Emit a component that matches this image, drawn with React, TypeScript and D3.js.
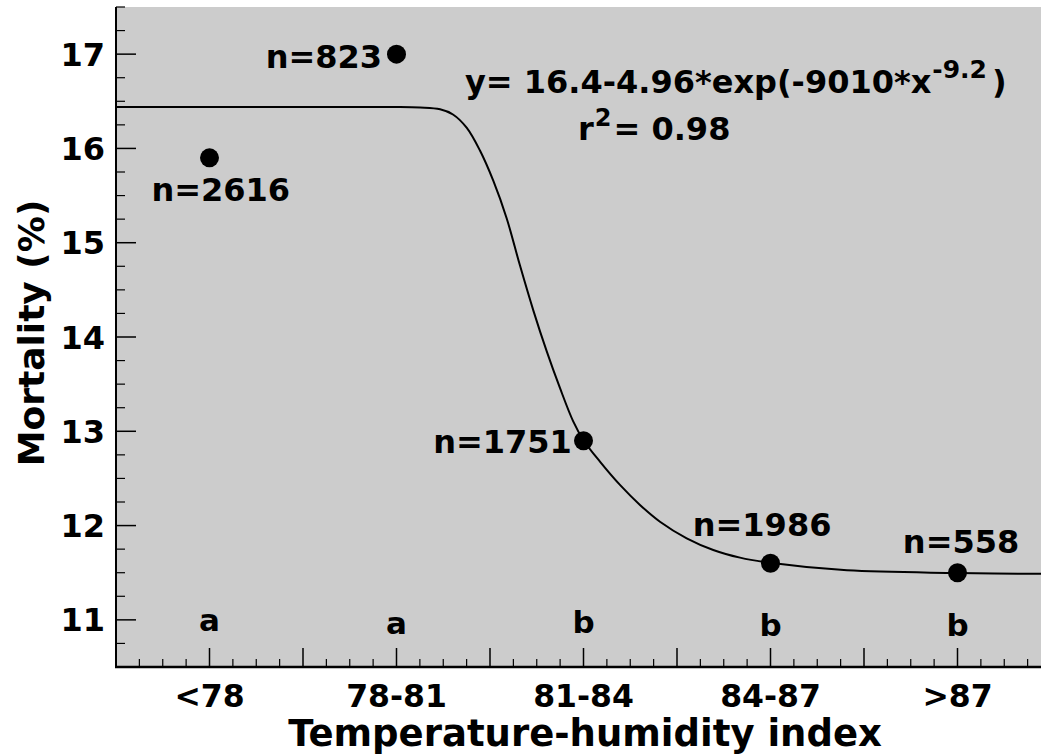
import React from "react";
import * as d3 from "d3";

const categories = ["<78", "78-81", "81-84", "84-87", ">87"];
const mortality = [15.9, 17.0, 12.9, 11.6, 11.5];
const nLabels = ["n=2616", "n=823", "n=1751", "n=1986", "n=558"];
const nLabelX = [0.06, 0.612, 1.567, 2.955, 4.019];
const nLabelY = [15.443, 16.853, 12.77, 11.89, 11.709];
const groupLetters = ["a", "a", "b", "b", "b"];
const groupLetterY = [10.886, 10.85, 10.864, 10.829, 10.829];
const yTicks = [11, 12, 13, 14, 15, 16, 17];

// fitted curve (x in category index units)
const curveX = [-0.5, 0.5, 1.0, 1.126, 1.233, 1.302, 1.375, 1.447, 1.518, 1.589, 1.66, 1.732, 1.803, 1.874, 1.945, 1.999, 2.088, 2.195, 2.302, 2.409, 2.552, 2.694, 2.837, 2.997, 3.409, 3.997, 4.5];
const curveY = [16.44, 16.44, 16.44, 16.434, 16.415, 16.36, 16.22, 15.975, 15.655, 15.26, 14.76, 14.28, 13.85, 13.46, 13.105, 12.908, 12.678, 12.431, 12.219, 12.041, 11.865, 11.741, 11.66, 11.605, 11.525, 11.497, 11.487];

const W = 1041;
const H = 755;
const FONT = "'DejaVu Sans', sans-serif";

export default function App() {
  const x = d3.scaleLinear().domain([-0.5, 4.5]).range([116, 1051]);
  const y = d3.scaleLinear().domain([10.5, 17.5]).range([667, 7]);

  const xMajor = d3.range(-0.5, 4.5001, 0.5);
  const xMinor = d3.range(-0.5, 4.5001, 0.125).filter((v) => Math.abs(v * 2 - Math.round(v * 2)) > 1e-6);
  const yMinor = d3.range(10.5, 17.5001, 0.25).filter((v) => Math.abs(v - Math.round(v)) > 1e-6);

  const line = d3
    .line<number>()
    .x((_, i) => x(curveX[i]))
    .y((d) => y(d))
    .curve(d3.curveCatmullRom.alpha(0.5));

  const [x0, x1] = x.range();
  const [y0, y1] = y.range();

  return (
    <svg
      width={W}
      height={H}
      style={{ position: "absolute", left: 0, top: 0, background: "#fff" }}
      fontFamily={FONT}
      fontWeight="bold"
    >
      <defs>
        <clipPath id="plotClip">
          <rect x={x0} y={y1} width={x1 - x0} height={y0 - y1} />
        </clipPath>
      </defs>
      <rect x={x0} y={y1} width={x1 - x0} height={y0 - y1} fill="#cccccc" />

      {/* ticks */}
      {yTicks.map((t) => (
        <line key={"ym" + t} x1={x0} x2={x0 + 20} y1={y(t)} y2={y(t)} stroke="#000" strokeWidth={1.5} />
      ))}
      {yMinor.map((t) => (
        <line key={"yn" + t} x1={x0} x2={x0 + 9} y1={y(t)} y2={y(t)} stroke="#000" strokeWidth={1.2} />
      ))}
      {xMajor.map((t) => (
        <line key={"xm" + t} x1={x(t)} x2={x(t)} y1={y0} y2={y0 - 19} stroke="#000" strokeWidth={1.5} />
      ))}
      {xMinor.map((t) => (
        <line key={"xn" + t} x1={x(t)} x2={x(t)} y1={y0} y2={y0 - 8} stroke="#000" strokeWidth={1.2} />
      ))}

      {/* fitted curve */}
      <path d={line(curveY) || ""} fill="none" stroke="#000" strokeWidth={2} clipPath="url(#plotClip)" />

      {/* points */}
      {mortality.map((m, i) => (
        <circle key={"p" + i} cx={x(i)} cy={y(m)} r={9.5} fill="#000" />
      ))}

      {/* n labels */}
      {nLabels.map((s, i) => (
        <text key={"n" + i} x={x(nLabelX[i])} y={y(nLabelY[i])} fontSize={32} textAnchor="middle" fill="#000">
          {s}
        </text>
      ))}

      {/* group letters */}
      {groupLetters.map((s, i) => (
        <text key={"g" + i} x={x(i)} y={y(groupLetterY[i])} fontSize={31} textAnchor="middle" fill="#000">
          {s}
        </text>
      ))}

      {/* equation */}
      <text x={465} y={93} fontSize={32} fill="#000">
        y= 16.4-4.96*exp(-9010*x
        <tspan fontSize={25} dy={-15} dx={1}>-9.2</tspan>
        <tspan fontSize={32} dy={15} dx={5}>)</tspan>
      </text>
      <text x={578} y={140} fontSize={32} fill="#000">
        r<tspan fontSize={24} dy={-14} dx={1}>2</tspan>
        <tspan fontSize={32} dy={14} dx={2}>= 0.98</tspan>
      </text>

      {/* axes spines */}
      <line x1={x0} x2={x0} y1={y1} y2={y0 + 1} stroke="#000" strokeWidth={2} />
      <line x1={x0 - 1} x2={x1} y1={y0} y2={y0} stroke="#000" strokeWidth={2.5} />

      {/* tick labels */}
      {yTicks.map((t) => (
        <text key={"yl" + t} x={105} y={y(t) + 11.5} fontSize={32} textAnchor="end" fill="#000">
          {t}
        </text>
      ))}
      {categories.map((c, i) => (
        <text key={"xl" + i} x={x(i)} y={707} fontSize={31.5} textAnchor="middle" fill="#000">
          {c}
        </text>
      ))}

      {/* axis titles */}
      <text x={585} y={746} fontSize={37} textAnchor="middle" fill="#000">
        Temperature-humidity index
      </text>
      <text
        transform={`translate(44, ${333}) rotate(-90)`}
        fontSize={36}
        textAnchor="middle"
        fill="#000"
      >
        Mortality (%)
      </text>
    </svg>
  );
}
